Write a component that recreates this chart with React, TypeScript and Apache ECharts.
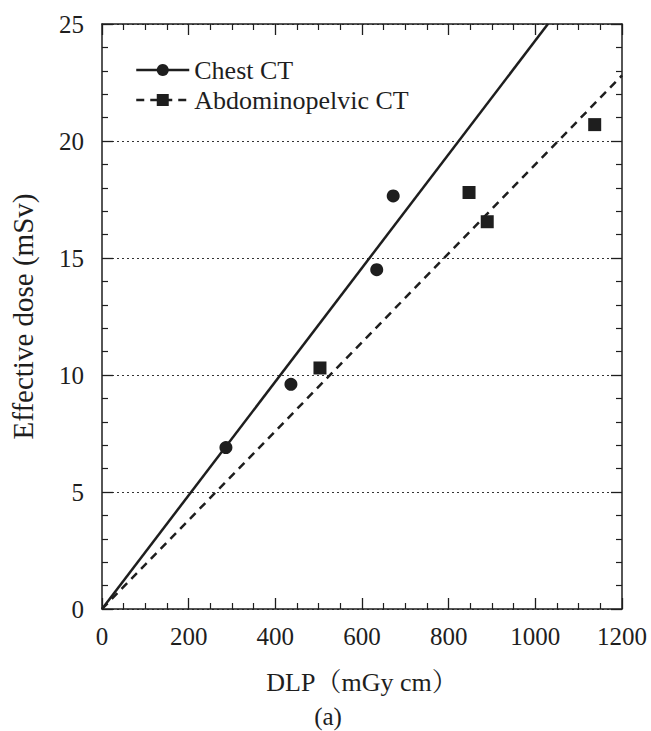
import React, { useEffect, useRef } from "react";
import * as echarts from "echarts";

const seriesNames = ["Chest CT", "Abdominopelvic CT"];
const chestDLP = [286, 436, 634, 672];
const chestDose = [6.9, 9.6, 14.5, 17.65];
const abdoDLP = [503, 847, 889, 1137];
const abdoDose = [10.3, 17.8, 16.55, 20.7];
const chestFitX = [0, 1029];
const chestFitY = [0, 25];
const abdoFitX = [0, 1200];
const abdoFitY = [0, 22.8];
const xTitle = "DLP（mGy cm）";
const yTitle = "Effective dose (mSv)";
const panelLabel = "(a)";

const FONT = "'Liberation Serif', 'Noto Serif CJK SC', 'Noto Sans CJK SC', serif";
const INK = "#1e1e1e";

const zip = (xs: number[], ys: number[]) => xs.map((x, i) => [x, ys[i]]);

export default function App() {
  const ref = useRef<HTMLDivElement>(null);
  useEffect(() => {
    if (!ref.current) return;
    const chart = echarts.init(ref.current, undefined, { renderer: "svg" });
    const axisLine = { show: true, onZero: false, lineStyle: { color: INK, width: 1.5 } };
    const tick = { show: true, inside: true, length: 11, lineStyle: { color: INK, width: 1.3 } };
    const minor = { show: true, length: 6, lineStyle: { color: INK, width: 1.2 } };
    const xBase = {
      type: "value" as const,
      min: 0,
      max: 1200,
      interval: 200,
      axisLine,
      axisTick: tick,
      minorTick: { ...minor, splitNumber: 4 },
      splitLine: { show: false },
    };
    const yBase = {
      type: "value" as const,
      min: 0,
      max: 25,
      interval: 5,
      axisLine,
      axisTick: tick,
      minorTick: { ...minor, splitNumber: 5 },
    };
    chart.setOption({
      animation: false,
      backgroundColor: "#fff",
      grid: { left: 97, right: 29, top: 24, bottom: 122, containLabel: false },
      legend: {
        data: seriesNames,
        orient: "vertical",
        left: 130,
        top: 52,
        itemWidth: 53,
        itemHeight: 15,
        itemGap: 4,
        textStyle: { fontFamily: FONT, fontSize: 26, color: INK, lineHeight: 26 },
        lineStyle: { width: 2.5 },
      },
      xAxis: [
        {
          ...xBase,
          position: "bottom",
          name: xTitle,
          nameLocation: "middle",
          nameGap: 60,
          nameTextStyle: { fontFamily: FONT, fontSize: 26, color: INK },
          axisLabel: {
            fontFamily: FONT,
            fontSize: 25,
            color: INK,
            margin: 15,
            formatter: (v: number) => String(v),
          },
        },
        { ...xBase, position: "top", axisLabel: { show: false } },
      ],
      yAxis: [
        {
          ...yBase,
          position: "left",
          name: yTitle,
          nameLocation: "middle",
          nameGap: 65,
          nameTextStyle: { fontFamily: FONT, fontSize: 29, color: INK },
          axisLabel: {
            fontFamily: FONT,
            fontSize: 25,
            color: INK,
            margin: 18,
            formatter: (v: number) => String(v),
          },
          splitLine: { show: true, lineStyle: { color: "#333", width: 1, type: [2, 3] } },
        },
        { ...yBase, position: "right", axisLabel: { show: false }, splitLine: { show: false } },
      ],
      series: [
        {
          name: seriesNames[0],
          type: "line",
          data: zip(chestFitX, chestFitY),
          showSymbol: false,
          symbol: "circle",
          itemStyle: { color: INK, opacity: 1 },
          lineStyle: { color: INK, width: 2.5, type: "solid" },
          silent: true,
        },
        {
          name: seriesNames[1],
          type: "line",
          data: zip(abdoFitX, abdoFitY),
          showSymbol: false,
          symbol: "rect",
          itemStyle: { color: INK, opacity: 1 },
          lineStyle: { color: INK, width: 2.5, type: [8, 6] },
          silent: true,
        },
        {
          name: seriesNames[0] + " data",
          type: "scatter",
          data: zip(chestDLP, chestDose),
          symbol: "circle",
          symbolSize: 13,
          itemStyle: { color: INK, opacity: 1 },
          z: 5,
        },
        {
          name: seriesNames[1] + " data",
          type: "scatter",
          data: zip(abdoDLP, abdoDose),
          symbol: "rect",
          symbolSize: 13,
          itemStyle: { color: INK, opacity: 1 },
          z: 5,
        },
      ],
      graphic: [
        {
          type: "text",
          x: 328,
          y: 716,
          style: {
            text: panelLabel,
            fontFamily: FONT,
            fontSize: 25,
            fill: INK,
            align: "center",
            verticalAlign: "middle",
          },
        },
      ],
    });
    return () => chart.dispose();
  }, []);
  return (
    <div
      ref={ref}
      style={{ position: "fixed", left: 0, top: 0, width: 651, height: 731 }}
    />
  );
}
